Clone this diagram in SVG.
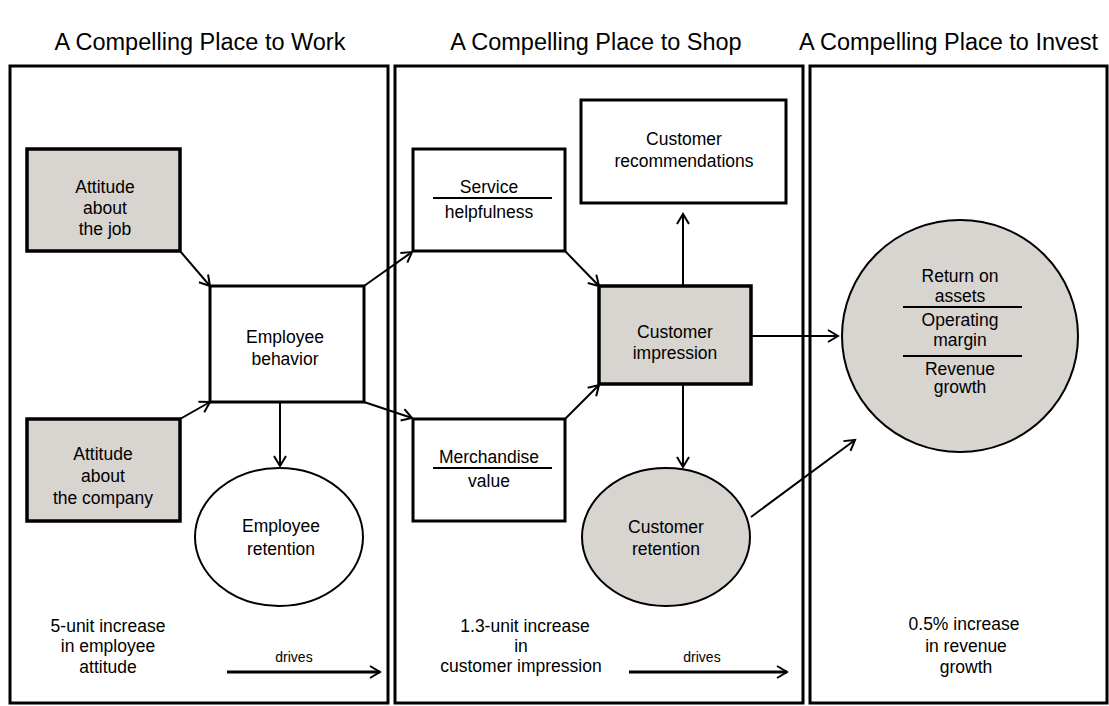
<svg xmlns="http://www.w3.org/2000/svg" width="1109" height="706" viewBox="0 0 1109 706">
<style>
.bg{fill:#ffffff}
.panel{fill:#ffffff;stroke:#000;stroke-width:3}
.box{fill:#ffffff;stroke:#000;stroke-width:3}
.gbox{fill:#d8d4d0;stroke:#000;stroke-width:3.5}
.ell{fill:#ffffff;stroke:#000;stroke-width:2}
.gell{fill:#d8d4d0;stroke:#000;stroke-width:2}
.sep{stroke:#000;stroke-width:2}
.t{font-family:"Liberation Sans",Arial,sans-serif;font-size:17.5px;fill:#000;text-anchor:middle}
.h{font-family:"Liberation Sans",Arial,sans-serif;font-size:23.5px;fill:#000}
.d{font-family:"Liberation Sans",Arial,sans-serif;font-size:14px;fill:#000;text-anchor:middle}
.c{fill:none;stroke:#000;stroke-width:2}
.big{fill:none;stroke:#000;stroke-width:3}
</style>
<defs>
<marker id="ah" markerUnits="userSpaceOnUse" markerWidth="14" markerHeight="14" refX="11" refY="6" orient="auto" overflow="visible">
<path d="M1,0 L11,6 L1,12" fill="none" stroke="#000" stroke-width="2"/>
</marker>
</defs>
<rect class="bg" x="0" y="0" width="1109" height="706"/>

<g id="headers">
<text class="h" x="200" y="50" text-anchor="middle">A Compelling Place to Work</text>
<text class="h" x="596" y="50" text-anchor="middle">A Compelling Place to Shop</text>
<text class="h" x="799" y="50">A Compelling Place to Invest</text>
</g>

<g id="panels">
<rect class="panel" x="10" y="66" width="378" height="637"/>
<rect class="panel" x="395" y="66" width="408" height="637"/>
<rect class="panel" x="810" y="66" width="297" height="637"/>
</g>

<g id="attitude-job">
<rect class="gbox" x="27" y="149" width="153" height="102"/>
<text class="t" x="105" y="193">Attitude</text>
<text class="t" x="105" y="214">about</text>
<text class="t" x="105" y="235">the job</text>
</g>

<g id="employee-behavior">
<rect class="box" x="210" y="286" width="154" height="116"/>
<text class="t" x="285" y="343">Employee</text>
<text class="t" x="285" y="365">behavior</text>
</g>

<g id="attitude-company">
<rect class="gbox" x="27" y="419" width="153" height="102"/>
<text class="t" x="103" y="460">Attitude</text>
<text class="t" x="103" y="482">about</text>
<text class="t" x="103" y="504">the company</text>
</g>

<g id="employee-retention">
<ellipse class="ell" cx="279" cy="537" rx="84" ry="69"/>
<text class="t" x="281" y="532">Employee</text>
<text class="t" x="281" y="555">retention</text>
</g>

<g id="work-result">
<text class="t" x="108" y="632">5-unit increase</text>
<text class="t" x="108" y="652">in employee</text>
<text class="t" x="108" y="673">attitude</text>
<text class="d" x="294" y="662">drives</text>
</g>

<g id="service-helpfulness">
<rect class="box" x="413" y="149" width="152" height="102"/>
<text class="t" x="489" y="193">Service</text>
<line class="sep" x1="433" y1="198" x2="552" y2="198"/>
<text class="t" x="489" y="218">helpfulness</text>
</g>

<g id="merchandise-value">
<rect class="box" x="413" y="419" width="152" height="102"/>
<text class="t" x="489" y="463">Merchandise</text>
<line class="sep" x1="433" y1="468" x2="552" y2="468"/>
<text class="t" x="489" y="487">value</text>
</g>

<g id="customer-recommendations">
<rect class="box" x="581" y="100" width="205" height="103"/>
<text class="t" x="684" y="145">Customer</text>
<text class="t" x="684" y="167">recommendations</text>
</g>

<g id="customer-impression">
<rect class="gbox" x="599" y="286" width="152" height="98"/>
<text class="t" x="675" y="338">Customer</text>
<text class="t" x="675" y="359">impression</text>
</g>

<g id="customer-retention">
<ellipse class="gell" cx="666" cy="537" rx="84" ry="69"/>
<text class="t" x="666" y="533">Customer</text>
<text class="t" x="666" y="555">retention</text>
</g>

<g id="shop-result">
<text class="t" x="525" y="632">1.3-unit increase</text>
<text class="t" x="521" y="652">in</text>
<text class="t" x="521" y="672">customer impression</text>
<text class="d" x="702" y="662">drives</text>
</g>

<g id="financials">
<ellipse class="gell" cx="960" cy="336" rx="118" ry="116"/>
<text class="t" x="960" y="282">Return on</text>
<text class="t" x="960" y="302">assets</text>
<line class="sep" x1="903" y1="307" x2="1022" y2="307"/>
<text class="t" x="960" y="326">Operating</text>
<text class="t" x="960" y="346">margin</text>
<line class="sep" x1="903" y1="356" x2="1022" y2="356"/>
<text class="t" x="960" y="375">Revenue</text>
<text class="t" x="960" y="393">growth</text>
</g>

<g id="invest-result">
<text class="t" x="964" y="630">0.5% increase</text>
<text class="t" x="966" y="652">in revenue</text>
<text class="t" x="966" y="673">growth</text>
</g>

<g id="connectors">
<path class="c" d="M180,251 L210,286" marker-end="url(#ah)"/>
<path class="c" d="M180,419 L210,402" marker-end="url(#ah)"/>
<path class="c" d="M364,286 L412,252" marker-end="url(#ah)"/>
<path class="c" d="M364,402 L412,418" marker-end="url(#ah)"/>
<path class="c" d="M565,251 L599,286" marker-end="url(#ah)"/>
<path class="c" d="M565,419 L599,385" marker-end="url(#ah)"/>
<path class="c" d="M683,286 L683,214" marker-end="url(#ah)"/>
<path class="c" d="M683,384 L683,467" marker-end="url(#ah)"/>
<path class="c" d="M751,336 L838,336" marker-end="url(#ah)"/>
<path class="c" d="M751,517 L855,440" marker-end="url(#ah)"/>
<path class="c" d="M280,402 L280,466" marker-end="url(#ah)"/>
<path class="big" d="M227,672 L380,672" marker-end="url(#ah)"/>
<path class="big" d="M629,672 L787,672" marker-end="url(#ah)"/>
</g>
</svg>
